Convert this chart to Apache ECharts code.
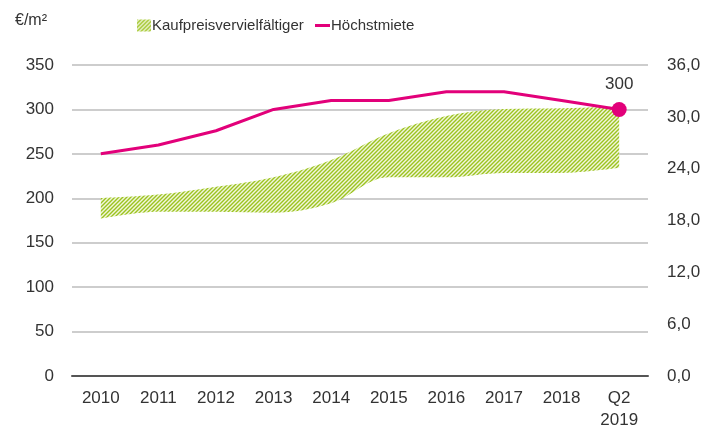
<!DOCTYPE html>
<html><head><meta charset="utf-8">
<script src="https://cdn.jsdelivr.net/npm/echarts@6/dist/echarts.min.js"></script>
<style>html,body{margin:0;padding:0;background:#fff}#c{width:716px;height:428px}</style>
</head><body><div id="c"></div>
<script>
const categories = ['2010','2011','2012','2013','2014','2015','2016','2017','2018','Q2\n2019'];
const hoechstmiete = [250, 260, 276, 300, 310, 310, 320, 320, 310, 300];
const vervLower = [18.2, 19.0, 19.0, 18.9, 20.0, 23.0, 23.0, 23.5, 23.5, 24.1];
const vervUpper = [20.6, 21.0, 21.9, 23.0, 25.0, 28.1, 30.1, 30.9, 31.0, 31.2];
const leftTicks = [0, 50, 100, 150, 200, 250, 300, 350];
const rightTicks = ['0,0','6,0','12,0','18,0','24,0','30,0','36,0'];

const FONT = '"Liberation Sans", sans-serif';
const PINK = '#e2007a';

const pc = document.createElement('canvas');
pc.width = 4; pc.height = 4;
const g = pc.getContext('2d');
g.fillStyle = '#f1f6dc'; g.fillRect(0,0,4,4);
g.strokeStyle = '#9cc31f'; g.lineWidth = 1.4;
g.beginPath();
g.moveTo(-1,5); g.lineTo(5,-1);
g.moveTo(-1,1); g.lineTo(1,-1);
g.moveTo(3,5); g.lineTo(5,3);
g.stroke();
const pattern = {image: pc, repeat: 'repeat'};

const diff = vervUpper.map((v,i)=> +(v - vervLower[i]).toFixed(2));

const chart = echarts.init(document.getElementById('c'));
chart.setOption({
  animation: false,
  textStyle: {fontFamily: FONT},
  grid: {left: 72, right: 68, top: 65, bottom: 52, containLabel: false, outerBoundsMode: 'none'},
  graphic: [{type:'text', left: 15, top: 13, style:{text:'€/m²', fontSize: 16, fill:'#333', fontFamily: FONT}}],
  legend: [
    {left: 132, top: 13, itemWidth: 14, itemHeight: 12, itemGap: 4,
     textStyle:{fontSize: 15, color:'#333', fontFamily: FONT, padding:[0,0,0,-4]},
     data:[{name:'Kaufpreisvervielfältiger', icon:'rect', itemStyle:{color: pattern}}]},
    {left: 310, top: 13, itemWidth: 15, itemHeight: 3,
     textStyle:{fontSize: 15, color:'#333', fontFamily: FONT, padding:[0,0,0,-4]},
     data:[{name:'Höchstmiete', icon:'rect', itemStyle:{color: PINK}}]}
  ],
  xAxis: {
    type: 'category', data: categories, boundaryGap: true,
    axisLine: {lineStyle: {color:'#555', width: 2}},
    axisTick: {show: false},
    axisLabel: {fontSize: 17, color:'#333', margin: 11, lineHeight: 22, fontFamily: FONT}
  },
  yAxis: [
    {type:'value', min: 0, max: 350, interval: 50, position:'left',
     axisLine:{show:false}, axisTick:{show:false},
     splitLine:{lineStyle:{color:'#bdbdbd', width: 1.5}},
     axisLabel:{fontSize: 17, color:'#333', margin: 18, fontFamily: FONT,
       formatter: v => leftTicks.includes(v) ? String(v) : ''}},
    {type:'value', min: 0, max: 36, interval: 6, position:'right',
     axisLine:{show:false}, axisTick:{show:false}, splitLine:{show:false},
     axisLabel:{fontSize: 17, color:'#333', margin: 19, fontFamily: FONT,
       formatter: v => rightTicks[Math.round(v/6)]}}
  ],
  series: [
    {name:'lower', type:'line', yAxisIndex: 1, stack:'band', data: vervLower,
     smooth: 0.35, symbol:'none', lineStyle:{width:0, opacity:0}, areaStyle:{opacity:0}, silent:true},
    {name:'Kaufpreisvervielfältiger', type:'line', yAxisIndex: 1, stack:'band', data: diff,
     smooth: 0.35, symbol:'none', lineStyle:{width:0, opacity:0}, itemStyle:{color: pattern},
     areaStyle:{color: pattern, opacity: 1}},
    {name:'Höchstmiete', type:'line', yAxisIndex: 0, data: hoechstmiete.map((v,i)=> i === hoechstmiete.length-1 ?
       {value: v, symbol:'circle', symbolSize: 15, label:{show:true, position:'top', distance: 9, fontSize: 17, color:'#333', fontFamily: FONT}} : {value: v, symbol:'none'}),
     lineStyle:{color: PINK, width: 3}, itemStyle:{color: PINK}, z: 5}
  ]
});
</script></body></html>
